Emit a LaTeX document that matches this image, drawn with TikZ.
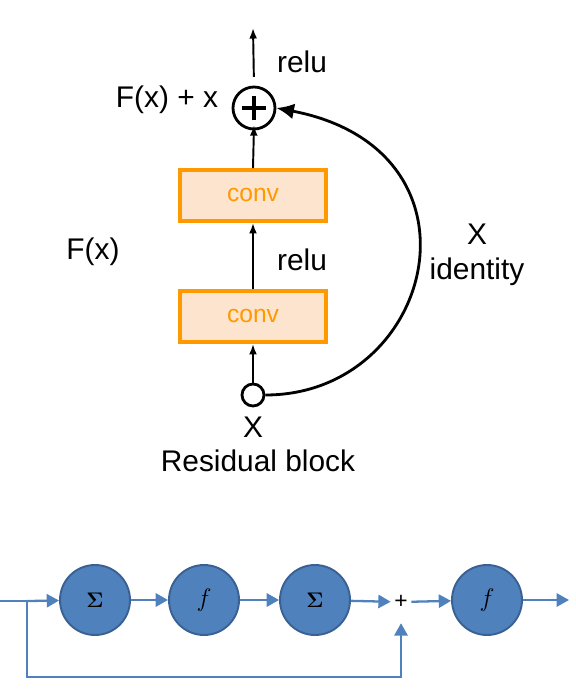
\documentclass[tikz,border=0pt]{standalone}
\usepackage[no-math]{fontspec}
\setmainfont{Liberation Sans}
\usepackage{xcolor}
\usetikzlibrary{positioning, arrows.meta}
\definecolor{convorange}{HTML}{FF9900}
\definecolor{convfill}{HTML}{FCE4CF}
\definecolor{netblue}{HTML}{4F81BD}
\definecolor{netedge}{HTML}{3A6194}

\begin{document}
\begin{tikzpicture}[
    x=0.02cm, y=-0.02cm,
    every node/.style={font=\fontsize{17}{20}\selectfont},
    conv/.style={rectangle, draw=convorange, line width=2.2pt, fill=convfill, text=convorange,
        minimum width=2.92cm, minimum height=1.02cm, font=\fontsize{14}{16}\selectfont},
    sumc/.style={circle, draw, line width=1.6pt, minimum size=0.84cm, inner sep=0pt,
        path picture={
            \draw[line width=2.8pt] ([xshift=-7pt]path picture bounding box.center) -- ([xshift=7pt]path picture bounding box.center);
            \draw[line width=2.8pt] ([yshift=-7pt]path picture bounding box.center) -- ([yshift=7pt]path picture bounding box.center);
        }},
    inc/.style={circle, draw, line width=1.6pt, fill=white, minimum size=0.44cm, inner sep=0pt},
    arr/.style={-{Latex[length=6pt,width=4.5pt]}, line width=1.1pt},
    curvearr/.style={-{Latex[length=10pt,width=9pt]}, line width=1.6pt},
    neuron/.style={circle, draw=netedge, fill=netblue, line width=1.1pt, minimum size=1.4cm, inner sep=0pt},
    bline/.style={netblue, line width=1.3pt},
    barr/.style={-{Triangle[length=7pt,width=7.5pt]}, netblue, line width=1.3pt},
]
    \useasboundingbox (0,0) rectangle (575,692);

    % residual block
    \node[sumc] (sum) at (254,108) {};
    \node[conv] (conv2) at (253,195.5) {conv};
    \node[conv] (conv1) at (253,316.5) {conv};
    \node[inc] (xin) at (253,395) {};
    \coordinate (out) at (253,28);

    \node (xlab)    at (253,427) {X};
    \node (title)   at (258,461) {Residual block};
    \node (fx)      at (93,252)  {F(x)};
    \node (fxx)     at (167,100) {F(x) + x};
    \node (relutop) at (302,62)  {relu};
    \node (relumid) at (302,260) {relu};
    \node[align=center] (ident) at (477,255) {X\\identity};

    \draw[arr] (xin.north)   -- (conv1.south);
    \draw[arr] (conv1.north) -- (conv2.south);
    \draw[arr] (conv2.north) -- ([yshift=3pt]sum.south);
    \draw[arr, shorten <=5pt] (sum.north) -- (out);
    \draw[curvearr] (xin.east) .. controls (435,395) and (495,150) .. (sum.east);

    % plain network with skip
    \node[neuron] (s1) at (95,600)  {\fontsize{12}{14}\selectfont$\mathbf{\Sigma}$};
    \node[neuron] (f1) at (204,600) {\fontsize{15}{17}\selectfont$f$};
    \node[neuron] (s2) at (315,600) {\fontsize{12}{14}\selectfont$\mathbf{\Sigma}$};
    \node[circle, minimum size=0.4cm, inner sep=0pt, font=\fontsize{13}{15}\selectfont] (plus) at (401,602) {+};
    \node[neuron] (f2) at (487,600) {\fontsize{15}{17}\selectfont$f$};

    \coordinate (in)    at (0,601);
    \coordinate (split) at (27,601);
    \coordinate (loop)  at (27,677);
    \coordinate (end)   at (569,600);

    \draw[bline] (in) -- (split);
    \draw[barr] (split) -- (s1);
    \draw[barr] (s1) -- (f1);
    \draw[barr] (f1) -- (s2);
    \draw[barr] (s2) -- (plus);
    \draw[barr] (plus) -- (f2);
    \draw[barr] (f2) -- (end);
    \draw[barr, shorten >=6.2pt] (split) -- (loop) -| (plus.south);
\end{tikzpicture}
\end{document}
